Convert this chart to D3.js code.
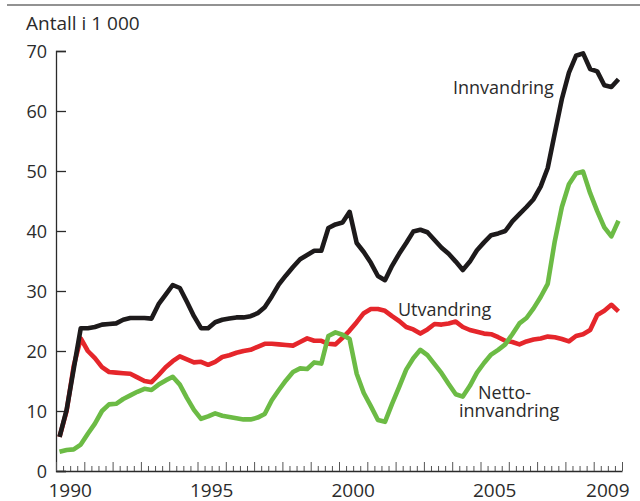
<!DOCTYPE html>
<html>
<head>
<meta charset="utf-8">
<script src="https://cdn.jsdelivr.net/npm/d3@7"></script>
<style>
  html, body { margin: 0; padding: 0; background: #fff; }
  svg { display: block; }
  text { font-family: "Open Sans", "Noto Sans", sans-serif; fill: #2b2b2b; }
</style>
</head>
<body>
<svg id="chart" width="640" height="501"></svg>
<script>
// ---- Data (thousands, quarterly, 1990 Q1 – 2009 Q4) ----
const startYear = 1990;
const endYear = 2010;
const innvandring = [
  5.7, 10.2, 17.0, 23.8, 23.8, 24.0, 24.4, 24.5, 24.6, 25.2,
  25.5, 25.5, 25.5, 25.4, 27.8, 29.4, 31.0, 30.5, 28.2, 25.8,
  23.8, 23.8, 24.8, 25.2, 25.4, 25.6, 25.6, 25.8, 26.3, 27.3,
  29.1, 31.1, 32.6, 34.0, 35.3, 36.0, 36.7, 36.7, 40.5, 41.1,
  41.4, 43.2, 38.0, 36.5, 34.7, 32.5, 31.8, 34.2, 36.2, 38.0,
  39.9, 40.2, 39.8, 38.5, 37.2, 36.2, 34.9, 33.5, 34.9, 36.8,
  38.1, 39.3, 39.6, 40.0, 41.6, 42.8, 44.0, 45.3, 47.4, 50.5,
  56.3, 62.0, 66.4, 69.2, 69.6, 67.0, 66.6, 64.3, 64.0, 65.3
];
const utvandring = [
  5.7, 10.0, 17.5, 22.1, 20.0, 18.8, 17.3, 16.5, 16.4, 16.3,
  16.2, 15.6, 15.0, 14.8, 16.0, 17.3, 18.3, 19.1, 18.6, 18.1,
  18.2, 17.7, 18.2, 19.0, 19.3, 19.7, 20.0, 20.2, 20.7, 21.2,
  21.2, 21.1, 21.0, 20.9, 21.5, 22.1, 21.7, 21.7, 21.2, 21.1,
  22.2, 23.4, 24.8, 26.3, 27.0, 27.0, 26.7, 25.8, 25.0, 24.0,
  23.6, 22.9, 23.6, 24.5, 24.4, 24.6, 24.9, 24.0, 23.5, 23.2,
  22.9, 22.8, 22.3, 21.7, 21.5, 21.1, 21.6, 21.9, 22.1, 22.4,
  22.3, 22.0, 21.6, 22.5, 22.8, 23.5, 26.0, 26.7, 27.7, 26.6
];
const nettoinnvandring = [
  3.2, 3.5, 3.6, 4.4, 6.2, 7.9, 10.0, 11.1, 11.2, 12.0,
  12.6, 13.2, 13.7, 13.5, 14.4, 15.1, 15.7, 14.4, 12.2, 10.2,
  8.7, 9.1, 9.6, 9.2, 9.0, 8.8, 8.6, 8.6, 8.9, 9.5,
  11.8, 13.5, 15.1, 16.5, 17.1, 17.0, 18.1, 17.9, 22.5, 23.1,
  22.7, 22.0, 16.2, 13.0, 10.8, 8.5, 8.2, 11.2, 14.0, 16.9,
  18.8, 20.2, 19.3, 17.8, 16.3, 14.5, 12.8, 12.4, 14.2, 16.4,
  18.0, 19.4, 20.2, 21.1, 22.8, 24.6, 25.5, 27.1, 29.0, 31.2,
  38.3, 44.0, 47.8, 49.6, 49.9, 46.3, 43.3, 40.6, 39.1, 41.7
];
const yTicks = [0, 10, 20, 30, 40, 50, 60, 70];
const xTickLabels = [1990, 1995, 2000, 2005, 2009];
const unitLabel = "Antall i 1 000";
const seriesNames = ["Innvandring", "Utvandring", "Netto-", "innvandring"];

// ---- Layout ----
const svg = d3.select("#chart");
const x = d3.scaleLinear().domain([startYear, endYear]).range([56, 622]);
const y = d3.scaleLinear().domain([0, 70]).range([471, 51]);
const tOf = i => startYear + (i + 0.5) / 4;

// top rule
svg.append("line")
  .attr("x1", 7).attr("x2", 640).attr("y1", 5).attr("y2", 5)
  .attr("stroke", "#6e6e6e").attr("stroke-width", 1.6);

// unit label
svg.append("text").attr("x", 26).attr("y", 30)
  .style("font-size", "19px").text(unitLabel);

// y axis
const yAxis = d3.axisRight(y).tickValues(yTicks).tickSize(10).tickFormat("");
const gy = svg.append("g").attr("transform", "translate(56,0)").call(yAxis);
gy.select(".domain").attr("stroke", "#2b2b2b").attr("stroke-width", 1.3);
gy.selectAll(".tick line").attr("stroke", "#2b2b2b").attr("stroke-width", 1.3);

svg.selectAll(".ylab").data(yTicks).join("text")
  .attr("class", "ylab")
  .attr("x", 47).attr("y", d => y(d) + 7)
  .attr("text-anchor", "end")
  .style("font-size", "18px")
  .text(d => d);

// x axis: quarterly minor ticks, yearly major ticks
const quarterTicks = d3.range(startYear, endYear, 0.25).filter(t => t % 1 !== 0);
const yearTicks = d3.range(startYear, endYear + 1);
const gxMinor = svg.append("g").attr("transform", "translate(0,471)")
  .call(d3.axisTop(x).tickValues(quarterTicks).tickSize(5).tickFormat(""));
gxMinor.selectAll(".tick line").attr("stroke", "#555").attr("stroke-width", 1);
gxMinor.select(".domain").remove();
const gx = svg.append("g").attr("transform", "translate(0,471)")
  .call(d3.axisTop(x).tickValues(yearTicks).tickSize(9).tickSizeOuter(0).tickFormat(""));
gx.select(".domain").attr("stroke", "#2b2b2b").attr("stroke-width", 1.3);
gx.selectAll(".tick line").attr("stroke", "#555").attr("stroke-width", 1);

svg.selectAll(".xlab").data(xTickLabels).join("text")
  .attr("class", "xlab")
  .attr("x", d => x(d + 0.5)).attr("y", 497)
  .attr("text-anchor", "middle")
  .style("font-size", "19px")
  .text(d => d);

// lines
const line = d3.line().x((d, i) => x(tOf(i))).y(d => y(d));
const series = [
  { data: utvandring, color: "#e5262b" },
  { data: nettoinnvandring, color: "#6cbb45" },
  { data: innvandring, color: "#1d1a1b" }
];
svg.selectAll(".series").data(series).join("path")
  .attr("class", "series")
  .attr("d", d => line(d.data))
  .attr("fill", "none")
  .attr("stroke", d => d.color)
  .attr("stroke-width", 4.6)
  .attr("stroke-linejoin", "round")
  .attr("stroke-linecap", "butt");

// series labels
const labels = [
  { text: seriesNames[0], x: 453, y: 94 },
  { text: seriesNames[1], x: 398, y: 316 }
];
svg.selectAll(".slab").data(labels).join("text")
  .attr("class", "slab")
  .attr("x", d => d.x).attr("y", d => d.y)
  .style("font-size", "18px")
  .text(d => d.text);

// two-line label for net immigration
const netLabel = svg.append("text").attr("class", "slab")
  .attr("x", 478).attr("y", 399)
  .style("font-size", "18px");
netLabel.append("tspan").attr("x", 478).attr("y", 399).text(seriesNames[2]);
netLabel.append("tspan").attr("x", 459).attr("y", 417).text(seriesNames[3]);
</script>
</body>
</html>
